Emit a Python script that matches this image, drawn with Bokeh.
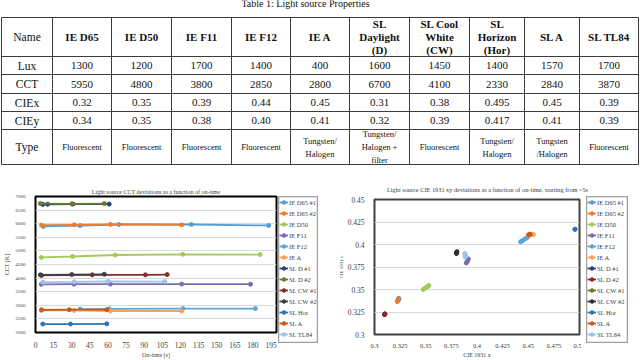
from bokeh.plotting import figure
from bokeh.layouts import column, row
from bokeh.models import Range1d, Legend, LegendItem, FixedTicker, ColumnDataSource, Spacer
from bokeh.core.properties import value
from bokeh.embed import file_html
from bokeh.resources import INLINE

SERIF = "'Liberation Serif'"

# ---------------- table data ----------------
table_title = "Table 1: Light source Properties"
row_labels = ["Name", "Lux", "CCT", "CIEx", "CIEy", "Type"]
source_names = ["IE D65", "IE D50", "IE F11", "IE F12", "IE A", "SL\nDaylight\n(D)",
                "SL Cool\nWhite\n(CW)", "SL\nHorizon\n(Hor)", "SL A", "SL TL84"]
lux = ["1300", "1200", "1700", "1400", "400", "1600", "1450", "1400", "1570", "1700"]
cct = ["5950", "4800", "3800", "2850", "2800", "6700", "4100", "2330", "2840", "3870"]
ciex = ["0.32", "0.35", "0.39", "0.44", "0.45", "0.31", "0.38", "0.495", "0.45", "0.39"]
ciey = ["0.34", "0.35", "0.38", "0.40", "0.41", "0.32", "0.39", "0.417", "0.41", "0.39"]
types = ["Fluorescent", "Fluorescent", "Fluorescent", "Fluorescent", "Tungsten/\nHalogen",
         "Tungsten/\nHalogen +\nfilter", "Fluorescent", "Tungsten/\nHalogen", "Tungsten\n/Halogen",
         "Fluorescent"]

# ---------------- CCT vs on-time data ----------------
series_names = ["IE D65 #1", "IE D65 #2", "IE D50", "IE F11", "IE F12", "IE A",
                "SL D #1", "SL D #2", "SL CW #1", "SL CW #2", "SL Hor", "SL A", "SL TL84"]
t_ie_d65_1 = [6.5, 37, 69, 129, 193]
cct_ie_d65_1 = [5900, 5930, 5970, 5970, 5935]
t_ie_d65_2 = [5, 32, 62, 121]
cct_ie_d65_2 = [5945, 5960, 5975, 5960]
t_ie_d50 = [4.8, 30.6, 66, 122, 186]
cct_ie_d50 = [4760, 4795, 4850, 4875, 4865]
t_ie_f11 = [4.8, 32, 62, 121, 178]
cct_ie_f11 = [3770, 3775, 3780, 3780, 3775]
t_ie_f12 = [37, 61, 122, 182]
cct_ie_f12 = [2860, 2870, 2880, 2880]
t_ie_a = [5, 32, 62, 121]
cct_ie_a = [2810, 2810, 2790, 2790]
t_sl_d_1 = [6, 10, 31, 61]
cct_sl_d_1 = [6710, 6715, 6720, 6720]
t_sl_d_2 = [4, 30, 57]
cct_sl_d_2 = [6740, 6730, 6740]
t_sl_cw_1 = [5, 47, 91, 109]
cct_sl_cw_1 = [4100, 4120, 4120, 4130]
t_sl_cw_2 = [4, 30, 57]
cct_sl_cw_2 = [4120, 4130, 4140]
t_sl_hor = [6, 29, 59]
cct_sl_hor = [2310, 2310, 2320]
t_sl_a = [5, 28, 59]
cct_sl_a = [2835, 2840, 2840]
t_sl_tl84 = [6, 32, 60, 107]
cct_sl_tl84 = [3850, 3860, 3880, 3870]

# ---------------- CIE xy data ----------------
x_ie_d65_1 = [0.3235, 0.3237, 0.3238, 0.3236]
y_ie_d65_1 = [0.3385, 0.3392, 0.3398, 0.3402]
x_ie_d65_2 = [0.3222, 0.3225, 0.3228, 0.3230]
y_ie_d65_2 = [0.3365, 0.3372, 0.3380, 0.3388]
x_ie_d50 = [0.3475, 0.3490, 0.3505, 0.3520, 0.3530]
y_ie_d50 = [0.3500, 0.3512, 0.3522, 0.3534, 0.3545]
x_ie_f11 = [0.3895, 0.3905, 0.3910, 0.3915]
y_ie_f11 = [0.3795, 0.3810, 0.3825, 0.3840]
x_ie_f12 = [0.4425, 0.4440, 0.4460, 0.4480, 0.4495]
y_ie_f12 = [0.4030, 0.4040, 0.4055, 0.4070, 0.4082]
x_ie_a = [0.4500, 0.4520, 0.4535, 0.4550]
y_ie_a = [0.4105, 0.4110, 0.4112, 0.4112]
x_sl_d_1 = [0.3100, 0.3101]
y_sl_d_1 = [0.3225, 0.3228]
x_sl_d_2 = [0.3098, 0.3100, 0.3102]
y_sl_d_2 = [0.3220, 0.3224, 0.3228]
x_sl_cw_1 = [0.3800, 0.3802]
y_sl_cw_1 = [0.3905, 0.3915]
x_sl_cw_2 = [0.3800, 0.3802, 0.3804]
y_sl_cw_2 = [0.3900, 0.3910, 0.3920]
x_sl_hor = [0.4955, 0.4957]
y_sl_hor = [0.4168, 0.4170]
x_sl_a = [0.4505, 0.4512, 0.4518]
y_sl_a = [0.4108, 0.4112, 0.4115]
x_sl_tl84 = [0.3880, 0.3885, 0.3888, 0.3885]
y_sl_tl84 = [0.3900, 0.3890, 0.3875, 0.3860]

colors_cct = ["#5B9BD5", "#ED7D31", "#A5C85A", "#7C6CB0", "#5BA5DA", "#F5A25D",
              "#264478", "#6B7A2E", "#8B2A2A", "#404040", "#2E75B6", "#C55A11", "#9DC3E6"]
colors_xy = ["#5B9BD5", "#ED7D31", "#A5C85A", "#7C6CB0", "#5BA5DA", "#F5A25D",
             "#264478", "#8B2A2A", "#6B7A2E", "#303030", "#2E75B6", "#C55A11", "#9DC3E6"]

cct_series = [(t_ie_d65_1, cct_ie_d65_1), (t_ie_d65_2, cct_ie_d65_2), (t_ie_d50, cct_ie_d50),
              (t_ie_f11, cct_ie_f11), (t_ie_f12, cct_ie_f12), (t_ie_a, cct_ie_a),
              (t_sl_d_1, cct_sl_d_1), (t_sl_d_2, cct_sl_d_2), (t_sl_cw_1, cct_sl_cw_1),
              (t_sl_cw_2, cct_sl_cw_2), (t_sl_hor, cct_sl_hor), (t_sl_a, cct_sl_a),
              (t_sl_tl84, cct_sl_tl84)]
xy_series = [(x_ie_d65_1, y_ie_d65_1), (x_ie_d65_2, y_ie_d65_2), (x_ie_d50, y_ie_d50),
             (x_ie_f11, y_ie_f11), (x_ie_f12, y_ie_f12), (x_ie_a, y_ie_a),
             (x_sl_d_1, y_sl_d_1), (x_sl_d_2, y_sl_d_2), (x_sl_cw_1, y_sl_cw_1),
             (x_sl_cw_2, y_sl_cw_2), (x_sl_hor, y_sl_hor), (x_sl_a, y_sl_a),
             (x_sl_tl84, y_sl_tl84)]

# ---------------- table figure (1 unit = 1 px) ----------------
col_edges = [1, 52, 111, 171, 231, 290, 349, 409, 469, 524, 579, 638]
row_edges = [17, 56, 74, 93, 111, 129, 164]

pt = figure(width=640, height=178, x_range=Range1d(0, 640), y_range=Range1d(178, 0),
            output_backend="svg", toolbar_location=None, min_border=0,
            x_axis_location=None, y_axis_location=None)
pt.grid.visible = False
pt.outline_line_color = None

hx0 = [col_edges[0]] * len(row_edges)
hx1 = [col_edges[-1]] * len(row_edges)
pt.segment(x0=hx0, y0=row_edges, x1=hx1, y1=row_edges, line_color="#3c3c3c", line_width=1)
vy0 = [row_edges[0]] * len(col_edges)
vy1 = [row_edges[-1]] * len(col_edges)
pt.segment(x0=col_edges, y0=vy0, x1=col_edges, y1=vy1, line_color="#3c3c3c", line_width=1)

xc = [(col_edges[i] + col_edges[i + 1]) / 2 for i in range(len(col_edges) - 1)]
yc = [(row_edges[j] + row_edges[j + 1]) / 2 for j in range(len(row_edges) - 1)]

pt.text(x=[305], y=[3], text=[table_title], text_font=value(SERIF), text_font_size="10px",
        text_align="center", text_baseline="alphabetic", text_color="#111111")
pt.text(x=[xc[0]] * 6, y=yc, text=row_labels, text_font=value(SERIF), text_font_size="11.5px",
        text_align="center", text_baseline="middle", text_color="#111111")
pt.text(x=xc[1:], y=[yc[0]] * 10, text=source_names, text_font=value(SERIF), text_font_size="11px",
        text_font_style="bold", text_align="center", text_baseline="middle", text_color="#111111",
        text_line_height=1.08)
for j, vals in enumerate([lux, cct, ciex, ciey]):
    pt.text(x=xc[1:], y=[yc[j + 1]] * 10, text=vals, text_font=value(SERIF), text_font_size="11px",
            text_align="center", text_baseline="middle", text_color="#111111")
pt.text(x=xc[1:], y=[yc[5]] * 10, text=types, text_font=value(SERIF), text_font_size="8.5px",
        text_align="center", text_baseline="middle", text_color="#111111", text_line_height=1.3)


def style_axes(p, xfont, yfont):
    for ax in (p.xaxis[0], p.yaxis[0]):
        ax.axis_line_color = None
        ax.major_tick_line_color = None
        ax.minor_tick_line_color = None
        ax.major_label_text_font = SERIF
        ax.major_label_text_color = "#404040"
        ax.axis_label_text_font = SERIF
        ax.axis_label_text_font_style = "normal"
        ax.axis_label_text_color = "#404040"
    p.xaxis.major_label_text_font_size = xfont
    p.yaxis.major_label_text_font_size = yfont
    p.xgrid.visible = False
    p.ygrid.grid_line_color = "#D9D9D9"
    p.ygrid.grid_line_width = 1


def legend_figure(width, series, colors, font):
    # legend box = this small figure; the series are drawn off-range so only legend glyphs show
    f = figure(width=width, height=147, x_range=Range1d(-2, -1), y_range=Range1d(-2, -1),
               output_backend="svg", toolbar_location=None, x_axis_location=None,
               y_axis_location=None, min_border=0)
    f.grid.visible = False
    f.outline_line_color = "#A0A0A0"
    f.outline_line_width = 1.5
    items = []
    for n, (xs, ys), c in zip(series_names, series, colors):
        src = ColumnDataSource(dict(x=xs, y=ys))
        r1 = f.line("x", "y", source=src, line_color=c, line_width=1.8)
        r2 = f.scatter("x", "y", source=src, marker="circle", size=4, fill_color=c, line_color=c)
        items.append(LegendItem(label=n, renderers=[r1, r2]))
    lg = Legend(items=items, location="top_left", orientation="vertical", ncols=1)
    lg.label_text_font = SERIF
    lg.label_text_font_size = font
    lg.label_text_color = "#404040"
    lg.label_height = 10
    lg.glyph_height = 10
    lg.glyph_width = 9
    lg.label_standoff = 1
    lg.spacing = 1
    lg.padding = 1
    lg.margin = 1
    lg.border_line_color = None
    lg.background_fill_alpha = 0
    f.add_layout(lg, "center")
    return f


# ---------------- left chart: CCT ----------------
pl = figure(width=278, height=182, x_range=Range1d(0, 199.5), y_range=Range1d(2000, 7000),
            output_backend="svg", toolbar_location=None,
            min_border_left=24, min_border_right=2, min_border_top=18, min_border_bottom=21)
pl.title.text = "Light source CCT deviations as a function of on-time"
pl.title.text_font = SERIF
pl.title.text_font_size = "6px"
pl.title.text_font_style = "normal"
pl.title.text_color = "#404040"
pl.title.align = "center"
pl.title.offset = 8
pl.title.standoff = 3
pl.outline_line_color = "#000000"
pl.outline_line_width = 2
style_axes(pl, "7.5px", "5px")
pl.xaxis.ticker = FixedTicker(ticks=list(range(0, 196, 15)))
pl.yaxis.ticker = FixedTicker(ticks=list(range(2000, 7001, 500)))
pl.xaxis.axis_label = "On-time [s]"
pl.yaxis.axis_label = "CCT [K]"
pl.xaxis.axis_label_text_font_size = "6px"
pl.yaxis.axis_label_text_font_size = "6px"
pl.xaxis.major_label_standoff = 3
pl.yaxis.major_label_standoff = 4
pl.xaxis.axis_label_standoff = 1
pl.yaxis.axis_label_standoff = 3

for (xs, ys), c in zip(cct_series, colors_cct):
    src = ColumnDataSource(dict(x=xs, y=ys))
    pl.line("x", "y", source=src, line_color=c, line_width=1.8)
    pl.scatter("x", "y", source=src, marker="circle", size=4, fill_color=c, line_color=c)

leg_l = legend_figure(40, cct_series, colors_cct, "6.5px")

# ---------------- right chart: CIE xy ----------------
title_r_text = ["Light source CIE 1931 xy deviations as a function of on-time, starting from ~5s"]
ptr = figure(width=314, height=18, x_range=Range1d(0, 314), y_range=Range1d(18, 0),
             output_backend="svg", toolbar_location=None, min_border=0,
             x_axis_location=None, y_axis_location=None)
ptr.grid.visible = False
ptr.outline_line_color = None
ptr.text(x=[161], y=[11], text=title_r_text, text_font=value(SERIF), text_font_size="6.3px",
         text_align="center", text_baseline="middle", text_color="#404040")

pr = figure(width=255, height=164, x_range=Range1d(0.3, 0.5), y_range=Range1d(0.3, 0.45),
            output_backend="svg", toolbar_location=None,
            min_border_left=48, min_border_right=2, min_border_top=3, min_border_bottom=22)
pr.outline_line_color = "#404040"
pr.outline_line_width = 2
style_axes(pr, "6.5px", "7.5px")
pr.xaxis.ticker = FixedTicker(ticks=[0.3, 0.325, 0.35, 0.375, 0.4, 0.425, 0.45, 0.475, 0.5])
pr.yaxis.ticker = FixedTicker(ticks=[0.3, 0.325, 0.35, 0.375, 0.4, 0.425, 0.45])
pr.xaxis.axis_label = "CIE 1931 x"
pr.yaxis.axis_label = "CIE 1931 y"
pr.xaxis.axis_label_text_font_size = "6px"
pr.yaxis.axis_label_text_font_size = "5px"
pr.xaxis.major_label_standoff = 3
pr.yaxis.major_label_standoff = 4
pr.xaxis.axis_label_standoff = 1
pr.yaxis.axis_label_standoff = 1

for (xs, ys), c in zip(xy_series, colors_xy):
    src = ColumnDataSource(dict(x=xs, y=ys))
    pr.line("x", "y", source=src, line_color=c, line_width=1.8)
    pr.scatter("x", "y", source=src, marker="circle", size=4, fill_color=c, line_color=c)

leg_r = legend_figure(42, xy_series, colors_xy, "6.5px")

left_half = row(pl, column(Spacer(width=40, height=18), leg_l, spacing=0),
                Spacer(width=8, height=10), spacing=0)
right_half = column(ptr,
                    row(pr, Spacer(width=5, height=10),
                        column(leg_r, Spacer(width=42, height=17), spacing=0),
                        Spacer(width=12, height=10), spacing=0),
                    spacing=0)
layout = column(pt, row(left_half, right_half, spacing=0), spacing=0)
open("out.html", "w").write(file_html(layout, INLINE))
